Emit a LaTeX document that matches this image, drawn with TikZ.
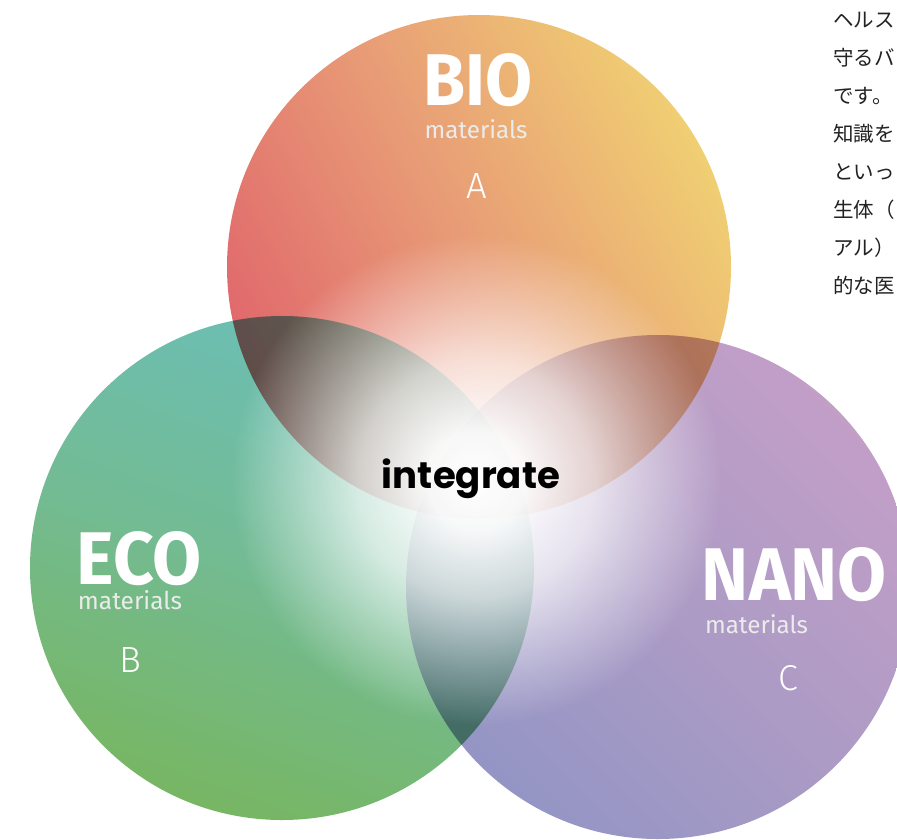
\documentclass[tikz,border=0pt]{standalone}
\usepackage{fontspec}
\setmainfont{Fira Sans}
\newfontfamily\thinfont{Fira Sans Light}
\newfontfamily\intfont{Poppins}
\newfontfamily\jpfont{Noto Sans CJK JP}
\usetikzlibrary{fadings}
\definecolor{bioLow}{HTML}{DD5268}
\definecolor{bioMid}{HTML}{E89C76}
\definecolor{bioHigh}{HTML}{F3E371}
\definecolor{ecoLow}{HTML}{79B44F}
\definecolor{ecoMid}{HTML}{73BB94}
\definecolor{ecoHigh}{HTML}{68C0C4}
\definecolor{nanoLow}{HTML}{8A93C5}
\definecolor{nanoMid}{HTML}{AC9BC5}
\definecolor{nanoHigh}{HTML}{CBA0C8}
\definecolor{jptext}{HTML}{222222}
\pgfdeclareverticalshading{bioshade}{100bp}{color(0bp)=(bioLow); color(15bp)=(bioLow); color(50bp)=(bioMid); color(85bp)=(bioHigh); color(100bp)=(bioHigh)}
\pgfdeclareverticalshading{ecoshade}{100bp}{color(0bp)=(ecoLow); color(15bp)=(ecoLow); color(50bp)=(ecoMid); color(85bp)=(ecoHigh); color(100bp)=(ecoHigh)}
\pgfdeclareverticalshading{nanoshade}{100bp}{color(0bp)=(nanoLow); color(15bp)=(nanoLow); color(50bp)=(nanoMid); color(85bp)=(nanoHigh); color(100bp)=(nanoHigh)}
\pgfdeclareradialshading{glowshade}{\pgfpointorigin}{color(0bp)=(pgftransparent!0); color(5bp)=(pgftransparent!4); color(12bp)=(pgftransparent!28); color(18bp)=(pgftransparent!62); color(25bp)=(pgftransparent!100); color(50bp)=(pgftransparent!100)}
\pgfdeclarefading{glow}{\pgfuseshading{glowshade}}
\tikzset{
	big/.style={text=white, font=\bfseries, inner sep=0pt, anchor=base},
	sub/.style={text=white!92!black, inner sep=0pt, anchor=base},
	letter/.style={text=white, font=\thinfont, inner sep=0pt, anchor=base},
	jp/.style={text=jptext, font=\jpfont\fontsize{20.5}{20.5}\selectfont, inner sep=0pt, anchor=west}
}
\begin{document}
\begin{tikzpicture}[x=1pt,y=1pt]
	\useasboundingbox (0,0) rectangle (897,-839);
	\fill[white] (0,0) rectangle (897,-839);
	\begin{scope}[blend group=multiply]
		\shade[shading=bioshade, shading angle=-62] (479,-267) circle (252);
		\shade[shading=ecoshade, shading angle=-20] (282,-568) circle (252);
		\shade[shading=nanoshade, shading angle=-45] (658,-587) circle (252);
	\end{scope}
	\fill[white, path fading=glow] (476,-480) circle (245);
	\node[big] (bio) at (478,-105) {\resizebox{109pt}{52pt}{BIO}};
	\node[sub] (biosub) at (476,-138) {\resizebox{103pt}{!}{materials}};
	\node[letter] (bioa) at (477,-198) {\resizebox{!}{25pt}{A}};
	\node[big] (eco) at (139.5,-584) {\resizebox{125pt}{53pt}{ECO}};
	\node[sub] (ecosub) at (130,-609) {\resizebox{104pt}{!}{materials}};
	\node[letter] (ecob) at (130,-672) {\resizebox{!}{25pt}{B}};
	\node[big] (nano) at (794.5,-600) {\resizebox{185pt}{53pt}{NANO}};
	\node[sub] (nanosub) at (756.5,-633) {\resizebox{103pt}{!}{materials}};
	\node[letter] (nanoc) at (788,-690) {\resizebox{!}{25pt}{C}};
	\node[inner sep=0pt, anchor=base, font=\intfont\bfseries] (mid) at (471,-488) {\resizebox{178pt}{!}{integrate}};
	\node[jp] (l1) at (833,-20) {ヘルス};
	\node[jp] (l2) at (833,-58) {守るバ};
	\node[jp] (l3) at (833,-96) {です。};
	\node[jp] (l4) at (833,-134) {知識を};
	\node[jp] (l5) at (833,-172) {といっ};
	\node[jp] (l6) at (833,-210) {生体（};
	\node[jp] (l7) at (833,-248) {アル）};
	\node[jp] (l8) at (833,-286) {的な医};
\end{tikzpicture}
\end{document}
